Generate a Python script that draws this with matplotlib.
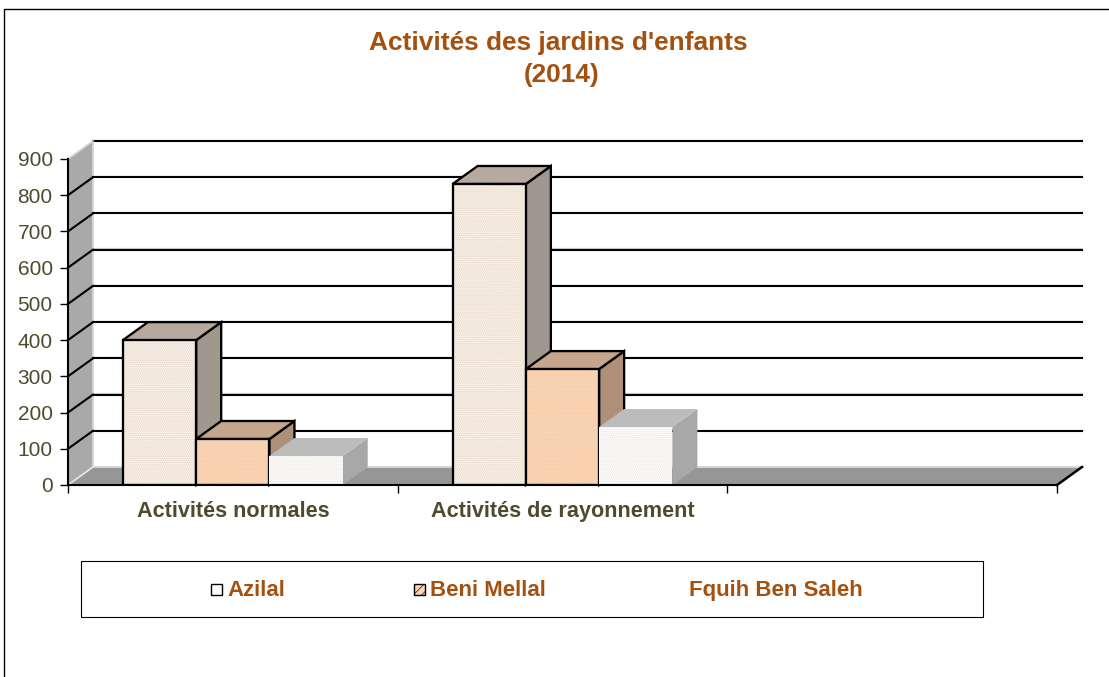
import matplotlib
matplotlib.use("Agg")
import matplotlib.pyplot as plt
from matplotlib.patches import Polygon, Rectangle
from matplotlib.lines import Line2D
from matplotlib.transforms import Affine2D

plt.rcParams['font.family'] = ['Liberation Sans', 'DejaVu Sans']
plt.rcParams['hatch.linewidth'] = 0.45

W, H = 1109, 677
title_lines = ["Activités des jardins d'enfants", "(2014)"]
categories = ["Activités normales", "Activités de rayonnement", ""]
series_names = ["Azilal", "Beni Mellal", "Fquih Ben Saleh"]
azilal = [400, 831]
beni_mellal = [127, 320]
fquih = [80, 160]
y_ticks = [0, 100, 200, 300, 400, 500, 600, 700, 800, 900]

fronts = ["#F6EDE3", "#FAD6B6", "#FCFAF8"]
hatch_cols = ["#E6D5C8", "#F0C49E", "#E8E4E0"]
tops = ["#B6AAA0", "#C5A68C", "#BCBCBC"]
sides = ["#A0988F", "#AE9079", "#A8A8A8"]
edges = ["black", "black", "none"]
TITLE_C = "#A5500F"
LABEL_C = "#4F4A2D"

fig = plt.figure(figsize=(W / 100, H / 100), dpi=100, facecolor="white")
px = Affine2D().scale(1 / W, -1 / H).translate(0, 1) + fig.transFigure

ax = fig.add_axes([68 / W, (H - 485) / H, 989 / W, 326 / H])
ax.set_xlim(0, 3)
ax.set_ylim(0, 900)
ax.patch.set_visible(False)
for s in ("top", "right"):
    ax.spines[s].set_visible(False)
for s in ("left", "bottom"):
    ax.spines[s].set_linewidth(1.5)

# depth of the fake 3-D box, in data units (25 px right, 18 px up)
DX = 25 / 989 * 3
DY = 18 / 326 * 900
BAR_W = 3 / 13.5
LW = 1.65


def poly(points, **kw):
    ax.add_patch(Polygon(points, closed=True, clip_on=False, **kw))


# walls and floor
poly([(0, 0), (DX, DY), (DX, 900 + DY), (0, 900)], fc="#A9A9A9", ec="none", zorder=1)
poly([(0, 0), (3, 0), (3 + DX, DY), (DX, DY)], fc="#969696", ec="none", zorder=1)
ax.plot([DX, DX, 3 + DX], [900 + DY, DY, DY], color="#D6D6D6", lw=1.4, zorder=1.2, clip_on=False)
ax.plot([0, DX], [0, DY], color="#E8E8E8", lw=1.2, zorder=1.2, clip_on=False)

# gridlines: on the back wall and along the side wall
for v in y_ticks:
    if v > 0:
        ax.plot([DX, 3 + DX], [v + DY + 3.5, v + DY + 3.5], color="#CFCFCF", lw=0.9, zorder=1.5, clip_on=False)
        ax.plot([DX, 3 + DX], [v + DY, v + DY], color="black", lw=1.5, zorder=1.6, clip_on=False)
    if 0 < v < 900:
        ax.plot([0, DX], [v, v + DY], color="black", lw=1.5, zorder=1.6, clip_on=False)
ax.plot([3, 3 + DX], [0, DY], color="black", lw=1.8, zorder=1.6, clip_on=False)
ax.plot([0, DX], [900, 900 + DY], color="#D6D6D6", lw=1.2, zorder=1.6, clip_on=False)

# bars
z = 2.0
for g in range(2):
    for i, vals in enumerate([azilal, beni_mellal, fquih]):
        x0 = g + 0.75 * BAR_W + i * BAR_W
        x1 = x0 + BAR_W
        v = vals[g]
        ec = edges[i]
        lw = LW if ec != "none" else 0
        poly([(x1, 0), (x1 + DX, DY), (x1 + DX, v + DY), (x1, v)], fc=sides[i], ec=ec, lw=lw, zorder=z, joinstyle="miter")
        poly([(x0, v), (x1, v), (x1 + DX, v + DY), (x0 + DX, v + DY)], fc=tops[i], ec=ec, lw=lw, zorder=z, joinstyle="miter")
        ax.bar(x0, v, BAR_W, align="edge", color=fronts[i], edgecolor=hatch_cols[i], hatch="........", lw=0, zorder=z + 0.01)
        if ec != "none":
            ax.bar(x0, v, BAR_W, align="edge", facecolor="none", edgecolor=ec, lw=LW, zorder=z + 0.02)
        z += 0.1

ax.spines["bottom"].set_zorder(10)

# axes text
ax.set_yticks(y_ticks)
ax.tick_params(axis="y", length=6, width=1.0, labelsize=15, labelcolor=LABEL_C, pad=5)
ax.set_xticks([0, 1, 2, 3])
ax.set_xticklabels([])
ax.set_xticks([0.5, 1.5, 2.5], minor=True)
ax.set_xticklabels(categories, minor=True, fontsize=15.6, fontweight="bold", color=LABEL_C)
ax.tick_params(axis="x", which="major", length=6, width=1.0)
ax.tick_params(axis="x", which="minor", length=0, pad=11.5)

# title
for line, xc, yb in zip(title_lines, [558, 562], [50, 82]):
    fig.text(xc, yb, line, transform=px, ha="center", va="baseline", fontsize=18.95,
             fontweight="bold", color=TITLE_C)

# outer frame
fig.add_artist(Line2D([4, 4, W], [H, 9, 9], transform=px, color="black", lw=1.0))

# legend: box, keys and labels
fig.add_artist(Rectangle((81, 561), 902, 56, transform=px, fc="white", ec="black", lw=0.8, zorder=3))
fig.add_artist(Rectangle((211, 584), 11, 11, transform=px, fc="white", ec="black", lw=1.0, zorder=4))
fig.add_artist(Rectangle((414, 584), 11, 11, transform=px, fc=fronts[1], ec="black", hatch="////", lw=1.0, zorder=4))
for name, x in zip(series_names, [227, 430, 689]):
    fig.text(x, 596, name, transform=px, ha="left", va="baseline", fontsize=16,
             fontweight="bold", color=TITLE_C, zorder=5)

fig.savefig("out.png", dpi=100)
